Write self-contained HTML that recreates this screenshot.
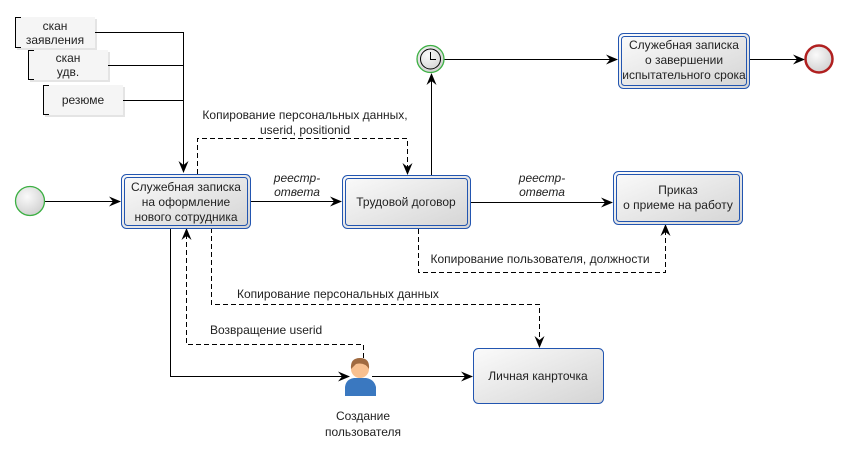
<!DOCTYPE html>
<html><head><meta charset="utf-8"><style>
html,body{margin:0;padding:0;background:#fff;width:850px;height:455px;overflow:hidden}
svg text{font-family:"Liberation Sans",sans-serif;font-size:12px;fill:#222}
</style></head><body>
<svg width="850" height="455" viewBox="0 0 850 455" xmlns="http://www.w3.org/2000/svg">
<defs>
<linearGradient id="g" x1="0" y1="0" x2="1" y2="1"><stop offset="0" stop-color="#fbfbfb"/><stop offset="1" stop-color="#d4d4d4"/></linearGradient>
<radialGradient id="c" cx="0.4" cy="0.35" r="0.7"><stop offset="0" stop-color="#fafafa"/><stop offset="1" stop-color="#cfcfcf"/></radialGradient>
<marker id="a" markerWidth="12" markerHeight="10" refX="11" refY="5" orient="auto" markerUnits="userSpaceOnUse"><path d="M0,0 L12,5 L0,10 L4,5 Z" fill="#000"/></marker>
</defs>
<g fill="#e4e4e4"><rect x="17" y="19" width="80" height="31"/><rect x="30" y="52" width="80" height="30"/><rect x="45" y="87" width="80" height="30"/></g>
<g fill="#f5f5f5" stroke="none">
<rect x="15" y="17" width="80" height="31"/><rect x="28" y="50" width="80" height="30"/><rect x="43" y="85" width="80" height="30"/>
</g>
<g fill="none" stroke="#000" stroke-width="1">
<path d="M21,17.5 H15.5 V47.5 H21"/><path d="M34,50.5 H28.5 V79.5 H34"/><path d="M49,85.5 H43.5 V114.5 H49"/>
</g>
<text x="55" y="30" text-anchor="middle">скан</text><text x="55" y="44" text-anchor="middle">заявления</text>
<text x="68" y="62" text-anchor="middle">скан</text><text x="68" y="76" text-anchor="middle">удв.</text>
<text x="83" y="104" text-anchor="middle">резюме</text>
<g fill="none" stroke="#000" stroke-width="1">
<path d="M95,32.5 H183.5 V172" marker-end="url(#a)"/>
<path d="M108,65.5 H183.5"/><path d="M123,100.5 H183.5"/>
<path d="M45,201.5 H120" marker-end="url(#a)"/>
<path d="M250,201.5 H341" marker-end="url(#a)"/>
<path d="M470,202.5 H612" marker-end="url(#a)"/>
<path d="M431.5,175 V74" marker-end="url(#a)"/>
<path d="M444,59.5 H617" marker-end="url(#a)"/>
<path d="M749,59.5 H804" marker-end="url(#a)"/>
<path d="M170.5,228 V376.5 H349" marker-end="url(#a)"/>
<path d="M372,376.5 H472" marker-end="url(#a)"/>
</g>
<g fill="none" stroke="#000" stroke-width="1" stroke-dasharray="5,3">
<path d="M197.5,174 V138.5 H407.5 V174" marker-end="url(#a)"/>
<path d="M418.5,229 V272.5 H665.5 V225" marker-end="url(#a)"/>
<path d="M211.5,228 V304.5 H539.5 V347" marker-end="url(#a)"/>
<path d="M363.5,358 V344.5 H186.5 V229" marker-end="url(#a)"/>
</g>
<circle cx="30" cy="201" r="14.5" fill="url(#c)" stroke="#3cb043" stroke-width="1.3"/>
<circle cx="430.5" cy="59" r="13.5" fill="url(#c)" stroke="#3cb043" stroke-width="1.3"/>
<circle cx="430.5" cy="59" r="10" fill="none" stroke="#000"/>
<path d="M430.5,52 V59.5 H436" fill="none" stroke="#000"/>
<circle cx="819" cy="59" r="13.5" fill="url(#c)" stroke="#b02020" stroke-width="2.5"/>
<g stroke="#2255b0" stroke-width="1">
<rect x="121.5" y="174.5" width="129" height="54" rx="5" fill="url(#g)"/><rect x="124.5" y="177.5" width="123" height="48" rx="3" fill="none"/>
<rect x="342.5" y="175.5" width="128" height="53" rx="5" fill="url(#g)"/><rect x="345.5" y="178.5" width="122" height="47" rx="3" fill="none"/>
<rect x="618.5" y="33.5" width="131" height="55" rx="5" fill="url(#g)"/><rect x="621.5" y="36.5" width="125" height="49" rx="3" fill="none"/>
<rect x="613.5" y="171.5" width="129" height="53" rx="5" fill="url(#g)"/><rect x="616.5" y="174.5" width="123" height="47" rx="3" fill="none"/>
<rect x="473.5" y="348.5" width="130" height="55" rx="5" fill="url(#g)"/>
</g>
<text x="186" y="191" text-anchor="middle">Служебная записка</text>
<text x="186" y="206" text-anchor="middle">на оформление</text>
<text x="186" y="221" text-anchor="middle">нового сотрудника</text>
<text x="406" y="206" text-anchor="middle">Трудовой договор</text>
<text x="684" y="49" text-anchor="middle">Служебная записка</text>
<text x="684" y="64" text-anchor="middle">о завершении</text>
<text x="684" y="79" text-anchor="middle">испытательного срока</text>
<text x="678" y="194" text-anchor="middle">Приказ</text>
<text x="678" y="209" text-anchor="middle">о приеме на работу</text>
<text x="538" y="380" text-anchor="middle">Личная канрточка</text>
<text x="297" y="182" text-anchor="middle" font-style="italic">реестр-</text>
<text x="297" y="196" text-anchor="middle" font-style="italic">ответа</text>
<text x="542" y="182" text-anchor="middle" font-style="italic">реестр-</text>
<text x="542" y="196" text-anchor="middle" font-style="italic">ответа</text>
<text x="305" y="119" text-anchor="middle">Копирование персональных данных,</text>
<text x="305" y="134" text-anchor="middle">userid, positionid</text>
<text x="540" y="263" text-anchor="middle">Копирование пользователя, должности</text>
<text x="237" y="298">Копирование персональных данных</text>
<text x="210" y="334">Возвращение userid</text>
<text x="363" y="420" text-anchor="middle">Создание</text>
<text x="363" y="436" text-anchor="middle">пользователя</text>
<path d="M345,396 V387 Q346,379 354,378 H366 Q374,379 376,387 V396 Z" fill="#3a78c0"/>
<circle cx="360" cy="369" r="9" fill="#f8c090"/>
<path d="M351,369 Q350,358 360,358 Q370,358 369,369 Q365,362 356,364 Z" fill="#a06a40"/>
</svg>
</body></html>
